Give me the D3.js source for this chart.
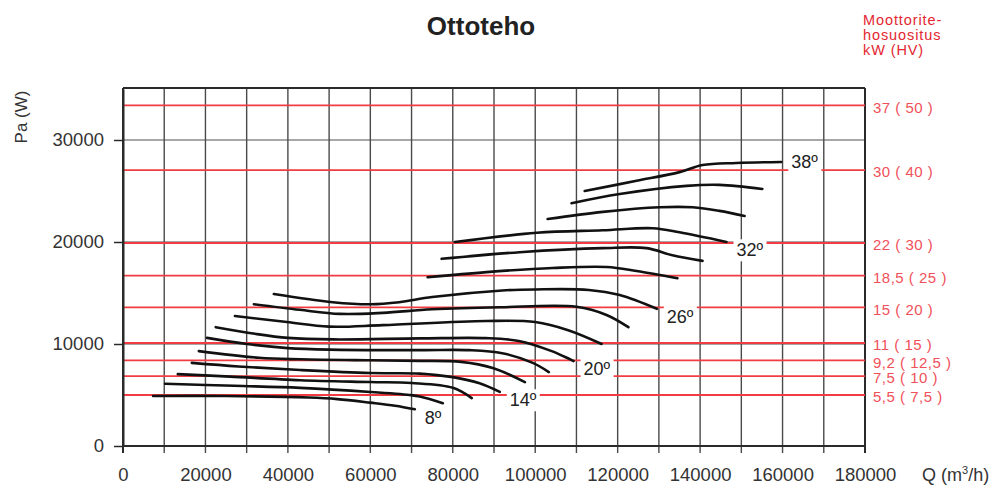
<!DOCTYPE html>
<html>
<head>
<meta charset="utf-8">
<script src="https://cdn.jsdelivr.net/npm/d3@7"></script>
<style>
  body { margin: 0; background: #fff; }
  svg { font-family: "Liberation Sans", Arial, sans-serif; }
</style>
</head>
<body>
<svg id="chart"></svg>
<script>
// Blade angles and curves (Q m3/h, Pa)
const angles = [8, 10, 12, 14, 16, 18, 20, 22, 24, 26, 28, 30, 32, 34, 36, 38];
const labeledAngles = [8, 14, 20, 26, 32, 38];

const c8  = [[7300,4900],[25000,4900],[45000,4750],[52000,4600],[60000,4250],[66000,3950],[70800,3600]];
const c10 = [[10200,6100],[27000,5900],[43000,5700],[60000,5300],[69500,5000],[72000,4850],[77600,4200]];
const c12 = [[13300,7050],[26000,6800],[43000,6450],[60000,6270],[70000,6170],[80000,5700],[84600,4700]];
const c14 = [[16700,8150],[28000,7800],[43000,7450],[60000,7150],[72000,7100],[80000,6750],[86500,6150],[91400,5300]];
const c16 = [[18400,9300],[33000,8650],[43000,8500],[60000,8400],[72000,8350],[82000,8250],[89700,7650],[97500,6270]];
const c18 = [[20400,10600],[30000,10000],[40000,9600],[50000,9450],[72000,9400],[84000,9400],[92000,9100],[99400,8150],[103300,7250]];
const c20 = [[22500,11650],[32000,11000],[40000,10600],[51000,10450],[72000,10550],[88000,10580],[96000,10300],[104000,9300],[109300,8330]];
const c22 = [[27150,12750],[39750,12150],[50000,11700],[63000,11850],[88000,12250],[100000,12150],[108000,11350],[116100,10000]];
const c24 = [[31750,13900],[42900,13350],[52600,12950],[63000,13050],[75000,13400],[91400,13600],[110000,13650],[117300,12850],[122600,11650]];
const c26 = [[36600,14900],[50900,14100],[60000,13900],[67000,14100],[75000,14600],[92000,15250],[100000,15350],[113000,15300],[120500,14800],[129500,13450]];
const c28 = [[73900,16550],[88200,17050],[104200,17450],[117300,17550],[124600,17150],[134500,16450]];
const c30 = [[77300,18350],[96200,19000],[116400,19400],[127000,19400],[133300,18700],[140600,18150]];
const c32 = [[80500,20000],[100400,20900],[116400,21150],[128500,21350],[135000,20950],[146400,20000]];
const c34 = [[103000,22250],[116400,22950],[130200,23400],[138200,23400],[144700,23050],[150800,22550]];
const c36 = [[108800,23800],[120500,24700],[136700,25500],[144700,25600],[155100,25200]];
const c38 = [[112000,25000],[124600,26000],[135000,26850],[140600,27550],[148800,27750],[159700,27850]];
const curves = [c8, c10, c12, c14, c16, c18, c20, c22, c24, c26, c28, c30, c32, c34, c36, c38];

// Motor power recommendation lines
const motorPa = [33400, 27050, 19900, 16700, 13600, 10100, 8400, 6850, 5000];
const motorLabels = ["37 ( 50 )", "30 ( 40 )", "22 ( 30 )", "18,5 ( 25 )", "15 ( 20 )",
                     "11 ( 15 )", "9,2 ( 12,5 )", "7,5 ( 10 )", "5,5 ( 7,5 )"];

const xTicks = d3.range(0, 180001, 10000);
const xLabelTicks = d3.range(0, 180001, 20000);
const yTicks = [0, 10000, 20000, 30000];

const W = 996, H = 487;
const margin = { top: 88, right: 131, bottom: 41, left: 123 };

const svg = d3.select("#chart").attr("width", W).attr("height", H);

const x = d3.scaleLinear().domain([0, 180000]).range([margin.left, W - margin.right]);
const y = d3.scaleLinear().domain([0, 35000]).range([H - margin.bottom, margin.top + 1]);

const x0 = x.range()[0], x1 = x.range()[1];
const yBot = y(0), yTop = margin.top;

// horizontal grid
svg.append("g")
  .selectAll("line")
  .data(yTicks.filter(d => d > 0))
  .join("line")
  .attr("x1", x0).attr("x2", x1)
  .attr("y1", d => y(d)).attr("y2", d => y(d))
  .attr("stroke", "#8a8a8a").attr("stroke-width", 1.3);

// vertical grid (runs past the bottom as ticks)
svg.append("g")
  .selectAll("line")
  .data(xTicks)
  .join("line")
  .attr("x1", d => x(d)).attr("x2", d => x(d))
  .attr("y1", yTop).attr("y2", yBot + 7)
  .attr("stroke", d => (d === 0 || d === 180000) ? "#2a2a2a" : "#4a4a4a")
  .attr("stroke-width", d => (d === 0 || d === 180000) ? 2 : 1.4);

// top border and x axis line
svg.append("line").attr("x1", x0).attr("x2", x1).attr("y1", yTop).attr("y2", yTop)
  .attr("stroke", "#2a2a2a").attr("stroke-width", 2);
svg.append("line").attr("x1", x0).attr("x2", x1).attr("y1", yBot).attr("y2", yBot)
  .attr("stroke", "#2a2a2a").attr("stroke-width", 2);

// red motor lines
svg.append("g")
  .selectAll("line")
  .data(motorPa)
  .join("line")
  .attr("x1", x0).attr("x2", x1)
  .attr("y1", d => y(d)).attr("y2", d => y(d))
  .attr("stroke", "#f03c42").attr("stroke-width", 1.8);

svg.append("g")
  .attr("font-size", 15)
  .attr("letter-spacing", 0.5)
  .attr("fill", "#f0505a")
  .selectAll("text")
  .data(motorPa)
  .join("text")
  .attr("x", x1 + 8)
  .attr("y", d => y(d) + 2)
  .attr("dy", "0.35em")
  .text((d, i) => motorLabels[i]);

// left axis
const yAxis = svg.append("g")
  .attr("transform", `translate(${x0},0)`)
  .call(d3.axisLeft(y).tickValues(yTicks).tickSize(9).tickPadding(10).tickSizeOuter(0).tickFormat(d => d));
yAxis.select(".domain").attr("stroke", "#2a2a2a").attr("stroke-width", 2);
yAxis.selectAll(".tick line").attr("stroke", "#2a2a2a").attr("stroke-width", 1.5);
yAxis.selectAll("text").attr("font-size", 18.5).attr("fill", "#333")
  .attr("font-family", "Liberation Sans, Arial, sans-serif");

// bottom tick labels
const xAxis = svg.append("g")
  .attr("transform", `translate(0,${yBot})`)
  .call(d3.axisBottom(x).tickValues(xLabelTicks).tickSize(0).tickPadding(22).tickFormat(d => d));
xAxis.select(".domain").remove();
xAxis.selectAll("text").attr("font-size", 18.5).attr("fill", "#333")
  .attr("font-family", "Liberation Sans, Arial, sans-serif");

// curve labels with white background
const line = d3.line()
  .x(d => x(d[0]))
  .y(d => y(d[1]))
  .curve(d3.curveCatmullRom.alpha(0.5));

const labelG = svg.append("g");
labeledAngles.forEach(a => {
  const pts = curves[angles.indexOf(a)];
  const end = pts[pts.length - 1], prev = pts[pts.length - 2];
  const falling = end[1] < prev[1];
  const g = labelG.append("g");
  const t = g.append("text")
    .attr("x", x(end[0]) + 10)
    .attr("y", y(end[1]) + (falling ? 8 : 0))
    .attr("dy", "0.35em")
    .attr("font-size", 18)
    .attr("fill", "#222")
    .text(a + "º");
  const b = t.node().getBBox();
  g.insert("rect", "text")
    .attr("x", b.x - 3).attr("y", b.y - 1)
    .attr("width", b.width + 6).attr("height", b.height + 2)
    .attr("fill", "#fff");
});

// curves
svg.append("g")
  .selectAll("path")
  .data(curves)
  .join("path")
  .attr("d", line)
  .attr("fill", "none")
  .attr("stroke", "#111")
  .attr("stroke-width", 2.6)
  .attr("stroke-linecap", "round");

// title
svg.append("text")
  .attr("x", 481).attr("y", 35)
  .attr("text-anchor", "middle")
  .attr("font-size", 26).attr("font-weight", "bold")
  .attr("fill", "#222")
  .text("Ottoteho");

// motor recommendation header
const head = svg.append("text")
  .attr("x", 863).attr("y", 25)
  .attr("font-size", 14.5).attr("letter-spacing", 0.9).attr("fill", "#e3262f");
["Moottorite-", "hosuositus", "kW (HV)"].forEach((s, i) => {
  head.append("tspan").attr("x", 863).attr("dy", i === 0 ? 0 : 15).text(s);
});

// axis titles
svg.append("text")
  .attr("transform", "translate(27,117) rotate(-90)")
  .attr("text-anchor", "middle")
  .attr("font-size", 17).attr("fill", "#333")
  .text("Pa (W)");

const xt = svg.append("text")
  .attr("x", 922).attr("y", 481)
  .attr("font-size", 18).attr("fill", "#333");
xt.append("tspan").text("Q (m");
xt.append("tspan").attr("font-size", 11).attr("dy", -7).text("3");
xt.append("tspan").attr("dy", 7).text("/h)");
</script>
</body>
</html>
